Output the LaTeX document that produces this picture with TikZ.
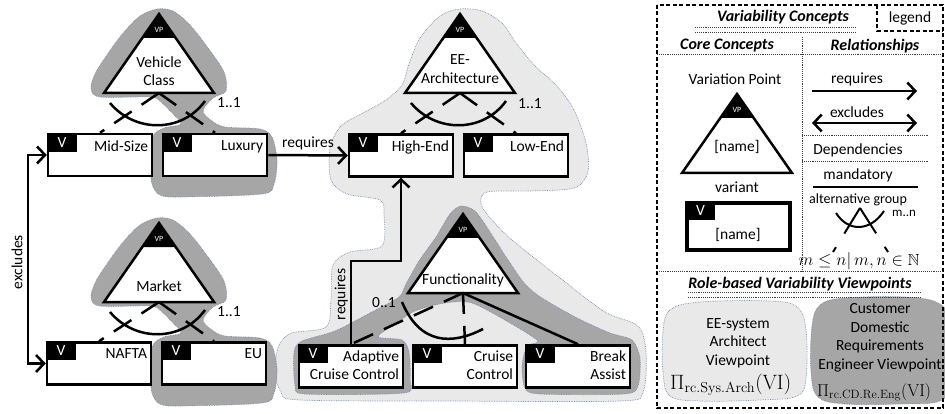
\documentclass[tikz,border=0pt]{standalone}
\usepackage{amssymb}
\usepackage[no-math]{fontspec}
\setmainfont{Carlito}
\usetikzlibrary{arrows.meta}

\definecolor{darkview}{RGB}{166,166,166}
\definecolor{lightview}{RGB}{233,233,233}
\definecolor{viewline}{RGB}{120,140,175}

\begin{document}
\begin{tikzpicture}[x=1pt, y=-1pt,
  every node/.style={font=\fontsize{15.5}{18.5}\selectfont, inner sep=2pt},
  variant/.style={draw, fill=white, line width=2.5pt, minimum width=104pt, minimum height=42pt, inner sep=0pt},
  vtab/.style={fill=black, text=white, anchor=north west, minimum width=30pt, minimum height=19pt, inner sep=0pt},
  vlabel/.style={anchor=north east, align=right, inner xsep=5pt, inner ysep=7.5pt},
  vptri/.style={draw, fill=white, line width=2.5pt, line join=miter},
  vptag/.style={text=white, font=\fontsize{8}{9}\selectfont, inner sep=0pt},
  vpname/.style={align=center},
  vpoint/.pic={
    \draw[vptri] (-55,0) -- (0,-79) -- (55,0) -- cycle;
    \fill (0,-79) -- (-16.7,-55) -- (16.7,-55) -- cycle;
    \coordinate (-base) at (0,0);
    \node[vptag] (-tag) at (0,-63) {VP};
  },
  altline/.style={line width=2.5pt, dash pattern=on 21pt off 12pt},
  mandline/.style={line width=2.5pt},
  arcline/.style={line width=2.5pt},
  relarrow/.style={line width=2.5pt, -{Straight Barb[length=8pt,width=17pt]}},
  exarrow/.style={line width=2.5pt, {Straight Barb[length=8pt,width=17pt]}-{Straight Barb[length=8pt,width=17pt]}},
  darkblob/.style={fill=darkview, draw=viewline, densely dotted, line width=0.7pt},
  lightblob/.style={fill=lightview, draw=viewline, densely dotted, line width=0.7pt},
  legendframe/.style={line width=1.2pt, dash pattern=on 4pt off 2.5pt},
  legendsep/.style={line width=0.9pt, densely dotted, black!75},
  headtext/.style={font=\fontsize{16}{19}\selectfont\bfseries\itshape}
]
\useasboundingbox (0,0) rectangle (945,414);

        %===========================
        % Viewpoints
        %===========================

        % EE-system architect
        \filldraw[lightblob] plot[smooth cycle, tension=0.5] coordinates {
          (460,9) (482,11) (502,23) (516,43) (535,66) (556,85) (574,110) (586,143)
          (588,172) (574,188) (530,191) (487,192) (481,204) (492,220) (512,240)
          (560,278) (605,312) (638,326) (646,352) (643,392) (620,401) (450,401)
          (300,400) (281,392) (275,370) (279,345) (292,333) (326,327) (331,300)
          (333,265) (350,252) (382,246) (384,215) (380,200) (347,194) (331,180)
          (330,148) (341,126) (363,113) (386,100) (402,85) (409,64) (420,38) (440,16)};

        % Customer domestic requirements engineer
        \filldraw[darkblob] plot[smooth cycle, tension=0.5] coordinates {
          (157,9) (140,16) (124,32) (109,52) (96,72) (91,88) (100,97) (150,97)
          (161,102) (172,113) (181,124) (164,128) (153,136) (150,160) (152,184)
          (160,195) (180,197) (262,194) (274,184) (277,160) (272,137) (260,129)
          (225,127) (212,121) (203,111) (213,98) (226,91) (224,72) (208,48)
          (190,25) (173,11)};
        \filldraw[darkblob, shift={(0,209)}] plot[smooth cycle, tension=0.5] coordinates {
          (157,9) (140,16) (124,32) (109,52) (96,72) (91,88) (100,97) (150,97)
          (161,102) (172,113) (181,124) (164,128) (153,136) (150,160) (152,184)
          (160,195) (180,197) (262,194) (274,184) (277,160) (272,137) (260,129)
          (225,127) (212,121) (203,111) (213,98) (226,91) (224,72) (208,48)
          (190,25) (173,11)};
        \filldraw[darkblob] plot[smooth cycle, tension=0.45] coordinates {
          (461,206) (475,211) (490,232) (508,260) (525,284) (542,298) (577,318)
          (610,333) (632,340) (640,358) (638,386) (624,394) (540,394) (525,388)
          (522,366) (527,346) (538,341) (510,323) (472,303) (445,303) (415,311)
          (392,326) (378,337) (402,340) (409,352) (410,380) (404,393) (305,394)
          (295,385) (294,352) (302,341) (335,331) (370,313) (399,297) (406,284)
          (419,261) (436,237) (450,214)};

        % legend viewpoints
        \filldraw[lightblob] plot[smooth cycle, tension=0.6] coordinates {
          (700,302) (770,301) (797,307) (806,330) (806,378) (797,396) (760,400)
          (700,401) (670,396) (663,372) (663,332) (670,310)};
        \filldraw[darkblob] plot[smooth cycle, tension=0.6] coordinates {
          (845,298) (905,297) (938,303) (950,322) (950,382) (940,401) (900,404)
          (845,404) (818,397) (811,372) (812,326) (820,305)};

        %===========================
        % Variation points
        %===========================
        \pic (vehicle) at (159,93) {vpoint};
        \node[vpname] (vehicleN) at (159,71) {Vehicle\\Class};
        \pic (market) at (159,302) {vpoint};
        \node[vpname] (marketN) at (159,286) {Market};
        \pic (eearch) at (460,93) {vpoint};
        \node[vpname] (eearchN) at (460,69) {EE-\\Architecture};
        \pic (func) at (463,293) {vpoint};
        \node[vpname] (funcN) at (463,280) {Functionality};

        %===========================
        % Variants
        %===========================
        \node[variant] (midsize) at (100,155) {};
        \node[vtab] (midsizeV) at (midsize.north west) {V};
        \node[vlabel] (midsizeL) at (midsize.north east) {Mid-Size};

        \node[variant] (luxury) at (215,155) {};
        \node[vtab] (luxuryV) at (luxury.north west) {V};
        \node[vlabel] (luxuryL) at (luxury.north east) {Luxury};

        \node[variant] (nafta) at (99,363.5) {};
        \node[vtab] (naftaV) at (nafta.north west) {V};
        \node[vlabel] (naftaL) at (nafta.north east) {NAFTA};

        \node[variant] (eu) at (214,363.5) {};
        \node[vtab] (euV) at (eu.north west) {V};
        \node[vlabel] (euL) at (eu.north east) {EU};

        \node[variant] (highend) at (401,155.5) {};
        \node[vtab] (highendV) at (highend.north west) {V};
        \node[vlabel] (highendL) at (highend.north east) {High-End};

        \node[variant] (lowend) at (516,155.5) {};
        \node[vtab] (lowendV) at (lowend.north west) {V};
        \node[vlabel] (lowendL) at (lowend.north east) {Low-End};

        \node[variant] (adaptive) at (351,366.5) {};
        \node[vtab] (adaptiveV) at (adaptive.north west) {V};
        \node[vlabel, inner ysep=6pt] (adaptiveL) at (adaptive.north east) {Adaptive\\Cruise Control};

        \node[variant] (cruise) at (465,366.5) {};
        \node[vtab] (cruiseV) at (cruise.north west) {V};
        \node[vlabel, inner ysep=6pt] (cruiseL) at (cruise.north east) {Cruise\\Control};

        \node[variant] (brake) at (578,366.5) {};
        \node[vtab] (brakeV) at (brake.north west) {V};
        \node[vlabel, inner ysep=6pt] (brakeL) at (brake.north east) {Break\\Assist};

        %===========================
        % Dependencies
        %===========================
        \draw[altline] (vehicle-base) -- (midsize.north);
        \draw[altline] (vehicle-base) -- (luxury.north);
        \draw[arcline] (110,103) .. controls (135,133) and (182,133) .. (205,101);
        \node (vehicleC) at (229,103) {1..1};

        \draw[altline] (market-base) -- (nafta.north);
        \draw[altline] (market-base) -- (eu.north);
        \draw[arcline] (110,312) .. controls (135,342) and (182,342) .. (205,310);
        \node (marketC) at (229,312) {1..1};

        \draw[altline] (eearch-base) -- (highend.north);
        \draw[altline] (eearch-base) -- (lowend.north);
        \draw[arcline] (411,103) .. controls (436,133) and (483,133) .. (506,101);
        \node (eearchC) at (530,104) {1..1};

        \draw[altline] (func-base) -- (adaptive.north);
        \draw[altline] (func-base) -- (cruise.north);
        \draw[mandline] (func-base) -- (brake.north);
        \draw[arcline] (402,302) .. controls (420,345) and (452,345) .. (483,329);
        \node (funcC) at (384,303) {0..1};

        %===========================
        % Relationships
        %===========================
        \draw[relarrow] (luxury.east) -- node[above=2pt] (luxuryR) {requires} (highend.west);

        \coordinate (reqbend) at (352,261);
        \draw[relarrow] (adaptive.north) -- node[above, sloped, pos=0.6] (adaptiveR) {requires}
          (adaptive.north |- reqbend) -| (highend.south);

        \coordinate (exbend) at (28,260);
        \draw[exarrow] (midsize.west) -| (exbend) |- (nafta.west);
        \node[rotate=90] (exL) at (17,262) {excludes};

        %===========================
        % Legend
        %===========================
        \draw[legendframe] (657,5) rectangle (943,408);
        \draw[legendframe] (877,5) -- (877,31) -- (943,31);
        \node (legendT) at (910,18) {legend};

        \node[headtext] (conceptsT) at (783,17) {Variability Concepts};
        \draw[legendsep] (695,27) -- (855,27);
        \draw[legendsep] (695,32) -- (855,32);
        \node[headtext] (coreT) at (727,46) {Core Concepts};
        \node[headtext] (relT) at (875,46) {Relationships};
        \draw[legendsep] (657,54) -- (943,54);
        \draw[legendsep] (802,37) -- (802,271);

        % core concepts
        \node (vpT) at (735,79) {Variation Point};
        \pic (legendvp) at (737,173) {vpoint};
        \node[vpname] (legendvpN) at (737,147) {[name]};
        \node (variantT) at (737,187) {variant};
        \node[variant, minimum width=103pt, minimum height=47pt, line width=3.5pt] (legendvar) at (738.5,226.5) {};
        \node[vtab] (legendvarV) at (legendvar.north west) {V};
        \node (legendvarN) at (738,235) {[name]};

        % relationships
        \node (reqT) at (857,79) {requires};
        \coordinate (reqS) at (812,91);
        \coordinate (reqE) at (917,91);
        \draw[relarrow] (reqS) -- (reqE);
        \node (exT) at (857,112) {excludes};
        \coordinate (exS) at (812,123);
        \coordinate (exE) at (917,123);
        \draw[exarrow] (exS) -- (exE);
        \draw[legendsep] (802,135) -- (928,135);
        \node (depT) at (858,150) {Dependencies};
        \draw[legendsep] (802,161) -- (928,161);
        \node (mandT) at (858,175) {mandatory};
        \coordinate (mandS) at (813,187);
        \coordinate (mandE) at (918,187);
        \draw[mandline, line width=2pt] (mandS) -- (mandE);
        \node[font=\fontsize{14}{16}\selectfont] (altT) at (858,200) {alternative group};
        \coordinate (altA) at (860,208);
        \coordinate (altL) at (833,252);
        \coordinate (altR) at (888,252);
        \draw[altline, line width=2pt, dash pattern=on 30pt off 16pt] (altA) -- (altL);
        \draw[altline, line width=2pt, dash pattern=on 30pt off 16pt] (altA) -- (altR);
        \draw[arcline, line width=2pt] (836,213) .. controls (848,232) and (870,232) .. (884,211);
        \node[font=\fontsize{13}{15}\selectfont] (altC) at (904,213) {m..n};
        \node[font=\fontsize{16}{19}\selectfont] (altM) at (859,261) {$m \leq n|\, m,n \in \mathbb{N}$};
        \draw[legendsep] (657,271) -- (943,271);

        % viewpoints
        \node[headtext] (roleT) at (800,284) {Role-based Variability Viewpoints};
        \draw[legendsep] (688,292) -- (920,292);
        \draw[legendsep] (688,297) -- (920,297);
        \node[align=center] (eeT) at (738,343) {EE-system\\Architect\\Viewpoint};
        \node[anchor=west, font=\fontsize{20}{24}\selectfont] (eePi) at (668,385) {$\Pi_{\mathrm{rc.Sys.Arch}}(\mathrm{VI})$};
        \node[align=center] (cdT) at (880,338) {Customer\\Domestic\\Requirements\\Engineer Viewpoint};
        \node[anchor=west, font=\fontsize{17.5}{21}\selectfont, inner xsep=0pt] (cdPi) at (817,392) {$\Pi_{\mathrm{rc.CD.Re.Eng}}(\mathrm{VI})$};
\end{tikzpicture}
\end{document}
